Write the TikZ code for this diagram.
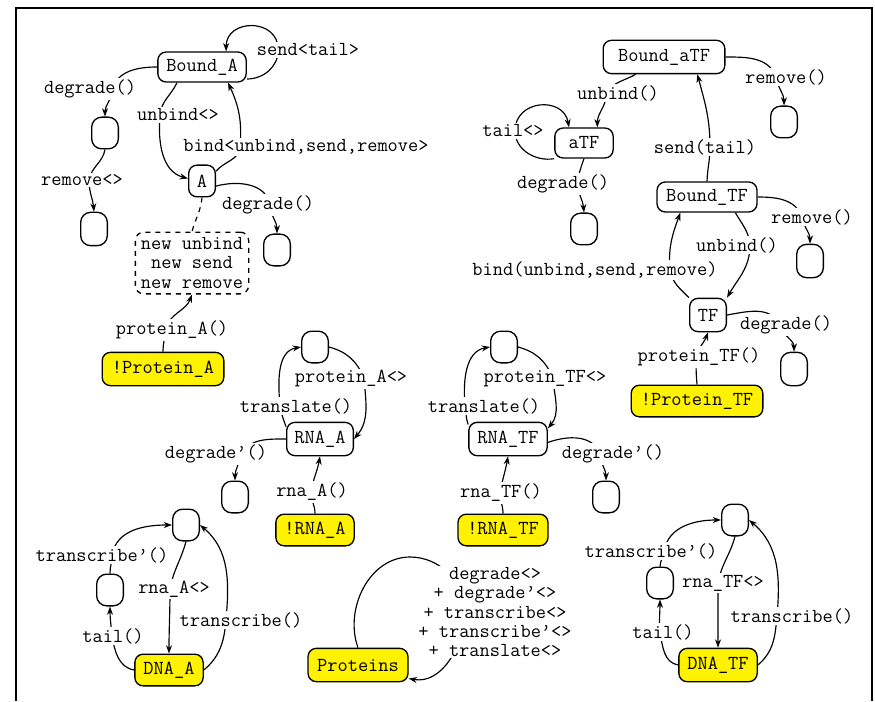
\documentclass[tikz,border=0pt]{standalone}
\usepackage{fontspec}
\usepackage{tikz}
\usetikzlibrary{arrows.meta,backgrounds}
\newcommand{\lblfont}{\ttfamily\fontsize{11.9}{11.6}\selectfont}

\begin{document}
\begin{tikzpicture}[x=0.6pt,y=0.6pt,
  state/.style={draw, line width=0.8pt, rounded corners=5pt, fill=white, font=\lblfont, minimum height=18pt, inner sep=0pt},
  start/.style={state, fill=yellow},
  sink/.style={draw, line width=0.8pt, rounded corners=6pt, fill=white, minimum width=16pt, minimum height=19pt, inner sep=0pt},
  lbl/.style={font=\lblfont, fill=white, inner sep=1pt, align=center},
  arr/.style={line width=0.7pt, -{Stealth[length=5pt,width=3.6pt]}},
  link/.style={line width=0.7pt}]

\useasboundingbox (0,0) rectangle (875,-701);

% Draw the frame
\draw[line width=1pt] (16,-701) -- (16,-8) -- (872,-8) -- (872,-701);

% Protein A states
\node[state, minimum width=53pt] (BoundA) at (202,-67) {Bound\_A};
\node[state, minimum width=16pt, minimum height=19pt] (A) at (202,-181) {A};
\node[sink] (sinkA1) at (105,-133) {};
\node[sink, minimum height=20pt] (sinkA2) at (94,-229) {};
\node[sink] (sinkA3) at (277,-250) {};
\node[state, dashed, align=center, minimum width=68pt, minimum height=37pt] (newBox) at (192,-263) {new unbind\\new send\\new remove};
\node[start, minimum width=73pt, minimum height=20pt] (ProtA) at (163,-369) {!Protein\_A};

% Protein A labels
\node[lbl] (lSendA) at (308,-50) {send<tail>};
\node[lbl] (lDegA) at (90,-89) {degrade()};
\node[lbl] (lRemA) at (82,-180) {remove<>};
\node[lbl] (lUnbA) at (178,-115) {unbind<>};
\node[lbl] (lBindA) at (306,-147) {bind<unbind,send,remove>};
\node[lbl] (lDegA2) at (268,-205) {degrade()};
\node[lbl] (lProtA) at (172,-330) {protein\_A()};

% TF states
\node[state, minimum width=73pt, minimum height=20pt] (BoundaTF) at (664,-57) {Bound\_aTF};
\node[state, minimum width=35pt] (aTF) at (584,-143) {aTF};
\node[sink] (sinkT1) at (784,-122) {};
\node[sink] (sinkT2) at (584,-229) {};
\node[state, minimum width=60pt] (BoundTF) at (707,-197) {Bound\_TF};
\node[sink, minimum height=20pt] (sinkT3) at (810,-261) {};
\node[state, minimum width=22pt, minimum height=20pt] (TF) at (708,-315) {TF};
\node[sink, minimum height=20pt] (sinkT4) at (794,-369) {};
\node[start, minimum width=79pt, minimum height=19pt] (ProtTF) at (697,-401) {!Protein\_TF};

% TF labels
\node[lbl] (lRemaT) at (786,-77) {remove()};
\node[lbl] (lUnbaT) at (618,-93) {unbind()};
\node[lbl] (lTailT) at (513,-131) {tail<>};
\node[lbl] (lDegaT) at (563,-184) {degrade()};
\node[lbl] (lSendT) at (705,-147) {send(tail)};
\node[lbl] (lRemT) at (812,-217) {remove()};
\node[lbl] (lUnbT) at (737,-245) {unbind()};
\node[lbl] (lBindT) at (595,-270) {bind(unbind,send,remove)};
\node[lbl] (lDegT) at (786,-325) {degrade()};
\node[lbl] (lProtT) at (699,-357) {protein\_TF()};

% RNA states
\node[state, minimum width=40pt, minimum height=20pt] (RNAA) at (320,-439) {RNA\_A};
\node[sink] (sinkR1) at (315,-347) {};
\node[sink] (sinkR2) at (235,-497) {};
\node[start, minimum width=47pt, minimum height=19pt] (nRNAA) at (315,-530) {!RNA\_A};
\node[state, minimum width=47pt, minimum height=20pt] (RNATF) at (508,-439) {RNA\_TF};
\node[sink] (sinkR3) at (504,-347) {};
\node[sink] (sinkR4) at (606,-497) {};
\node[start, minimum width=54pt, minimum height=19pt] (nRNATF) at (503,-530) {!RNA\_TF};

% RNA labels
\node[lbl] (lProtA2) at (351,-379) {protein\_A<>};
\node[lbl] (lTransA) at (296,-406) {translate()};
\node[lbl] (lDegRA) at (216,-454) {degrade’()};
\node[lbl] (lRnaA) at (312,-492) {rna\_A()};
\node[lbl] (lProtT2) at (545,-379) {protein\_TF<>};
\node[lbl] (lTransT) at (484,-406) {translate()};
\node[lbl] (lDegRT) at (613,-454) {degrade’()};
\node[lbl] (lRnaT) at (501,-493) {rna\_TF()};

% DNA states
\node[sink] (sinkD1) at (186,-525) {};
\node[sink] (sinkD2) at (110,-590) {};
\node[start, minimum width=41pt, minimum height=19pt] (DNAA) at (169,-670) {DNA\_A};
\node[sink] (sinkD3) at (735,-520) {};
\node[sink] (sinkD4) at (660,-583) {};
\node[start, minimum width=47pt, minimum height=20pt] (DNATF) at (718,-665) {DNA\_TF};
\node[start, minimum width=60pt, minimum height=20pt] (Proteins) at (358,-665) {Proteins};

% DNA labels
\node[lbl] (lTrs2A) at (102,-555) {transcribe’()};
\node[lbl] (lTailA) at (113,-636) {tail()};
\node[lbl] (lRnaA2) at (174,-589) {rna\_A<>};
\node[lbl] (lTrsA) at (241,-620) {transcribe()};
\node[lbl] (lTrs2T) at (651,-551) {transcribe’()};
\node[lbl] (lRnaT2) at (723,-583) {rna\_TF<>};
\node[lbl] (lTailT2) at (663,-632) {tail()};
\node[lbl] (lTrsT) at (792,-616) {transcribe()};
\node[lbl] (lProteins) at (495,-612) {degrade<>\\+ degrade’<>\\+ transcribe<>\\+ transcribe’<>\\+ translate<>};

\begin{scope}[on background layer]
% Draw protein A transitions
\draw[arr] (BoundA.-15) to[out=0,in=-90] ([xshift=14pt]lSendA.west) to[out=90,in=90,looseness=1.6] (BoundA.33);
\draw[arr] (BoundA.west) to[out=180,in=75] (112,-90) to[out=-95,in=90] (sinkA1.north);
\draw[arr] (sinkA1.south) to[out=-100,in=80] (89,-180) to[out=-90,in=95] (sinkA2.north);
\draw[arr] ([xshift=-15pt]BoundA.south) to[out=-115,in=85] (160,-115) to[out=-95,in=165] (A.170);
\draw[arr] (A.35) to[out=50,in=-95] (240,-147) to[out=85,in=-65] ([xshift=15.6pt]BoundA.south);
\draw[arr] (A.-20) to[out=15,in=100] (270,-205) to[out=-85,in=90] (sinkA3.north);
\draw[link, dashed] (A.south) to[out=-95,in=75] (newBox.north);
\draw[arr] (ProtA.north) to[out=90,in=-90] (165,-330) to[out=75,in=-110] (newBox.south);

% Draw TF transitions
\draw[arr] (BoundaTF.east) to[out=0,in=110] (776,-77) to[out=-80,in=90] (sinkT1.north);
\draw[arr] ([xshift=-17pt]BoundaTF.south) to[out=-150,in=60] (607,-93) to[out=-95,in=90] ([xshift=8pt]aTF.north);
\draw[arr] (aTF.south west) to[out=190,in=-90] (515,-131) to[out=90,in=100,looseness=1.5] ([xshift=-9pt]aTF.north);
\draw[arr] (aTF.south) to[out=-110,in=80] (577,-184) to[out=-80,in=95] (sinkT2.north);
\draw[arr] (BoundTF.north) to[out=88,in=-90] (710,-147) to[out=90,in=-75] ([xshift=20pt]BoundaTF.south);
\draw[arr] (BoundTF.east) to[out=0,in=110] (802,-217) to[out=-80,in=90] (sinkT3.north);
\draw[arr] ([xshift=17pt]BoundTF.south) to[out=-60,in=95] (750,-245) to[out=-90,in=60] (TF.north east);
\draw[arr] (TF.north west) to[out=135,in=-80] (670,-270) to[out=95,in=-110] ([xshift=-16pt]BoundTF.south);
\draw[arr] (TF.east) to[out=10,in=120] (780,-324) to[out=-80,in=90] (sinkT4.north);
\draw[arr] (ProtTF.north) to[out=95,in=-90] (696,-357) to[out=75,in=-110] (TF.south);

% Draw RNA transitions
\draw[arr] (sinkR1.east) to[out=-15,in=110] (364,-379) to[out=-85,in=50] (RNAA.east);
\draw[arr] (RNAA.160) to[out=110,in=-80] (280,-406) to[out=95,in=190] (sinkR1.west);
\draw[arr] (RNAA.west) to[out=180,in=60] (240,-455) to[out=-95,in=90] (sinkR2.north);
\draw[arr] (nRNAA.north) to[out=90,in=-90] (311,-492) to[out=80,in=-100] (RNAA.south);
\draw[arr] (sinkR3.east) to[out=-15,in=110] (553,-379) to[out=-85,in=50] (RNATF.15);
\draw[arr] (RNATF.160) to[out=110,in=-80] (465,-406) to[out=95,in=190] (sinkR3.west);
\draw[arr] (RNATF.-5) to[out=20,in=110] (600,-454) to[out=-85,in=90] (sinkR4.north);
\draw[arr] (nRNATF.north) to[out=90,in=-90] (500,-493) to[out=80,in=-100] (RNATF.south);

% Draw DNA transitions
\draw[arr] (sinkD2.north) to[out=90,in=-90] (112,-555) to[out=80,in=180] (sinkD1.west);
\draw[arr] (DNAA.west) to[out=170,in=-80] (112,-636) to[out=95,in=-90] (sinkD2.south);
\draw[arr] (sinkD1.south) to[out=-105,in=80] (170,-589) to[out=-90,in=90] (DNAA.north);
\draw[arr] (DNAA.east) to[out=40,in=-95] (226,-620) to[out=85,in=-40] (sinkD1.east);
\draw[arr] (sinkD4.north) to[out=90,in=-90] (664,-551) to[out=80,in=180] (sinkD3.west);
\draw[arr] (DNATF.west) to[out=170,in=-80] (660,-632) to[out=95,in=-90] (sinkD4.south);
\draw[arr] (sinkD3.south) to[out=-105,in=80] (718,-583) to[out=-90,in=90] (DNATF.north);
\draw[arr] (DNATF.east) to[out=40,in=-95] (777,-616) to[out=85,in=-40] (sinkD3.east);
\draw[arr] (Proteins.north) to[out=110,in=180] (410,-557) to[out=0,in=90] (464,-612) to[out=-90,in=-10] (Proteins.-15);
\end{scope}

\end{tikzpicture}
\end{document}
